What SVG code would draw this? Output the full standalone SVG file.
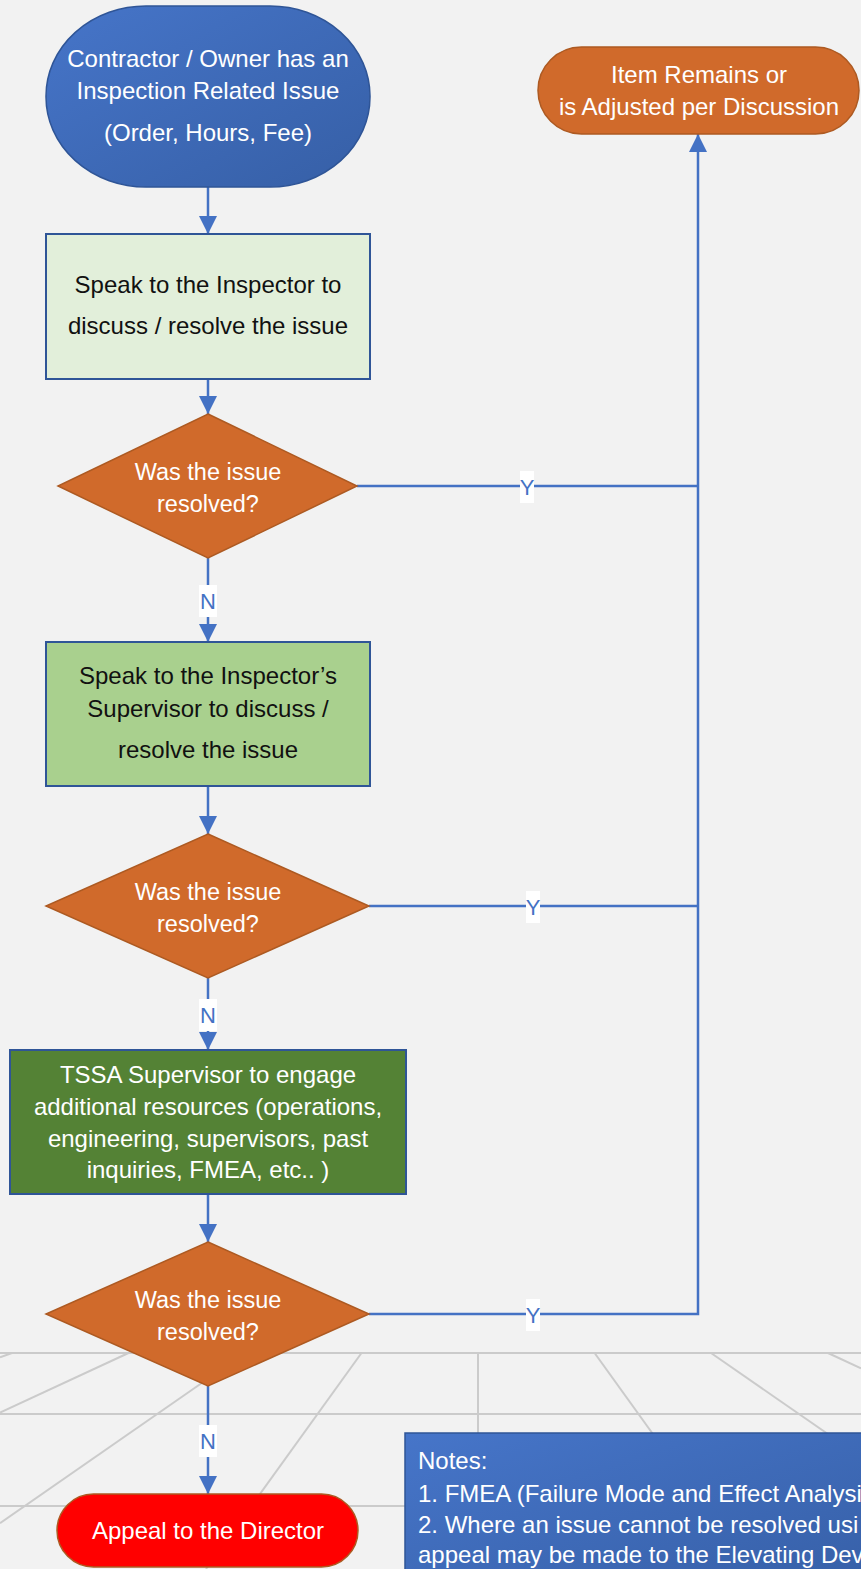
<svg xmlns="http://www.w3.org/2000/svg" width="861" height="1569" viewBox="0 0 861 1569">
<defs>
<linearGradient id="gBlue" x1="0" y1="0" x2="1" y2="1">
<stop offset="0" stop-color="#4675c9"/>
<stop offset="1" stop-color="#365fa6"/>
</linearGradient>
<marker id="arr" markerUnits="userSpaceOnUse" markerWidth="18" markerHeight="18" refX="18" refY="9" orient="auto">
<path d="M0,0 L18,9 L0,18 z" fill="#4472c4"/>
</marker>
<style>
.t{font-family:"Liberation Sans",Arial,sans-serif;font-size:24px;text-anchor:middle}
.s{text-anchor:start}
.w{fill:#ffffff}
.k{fill:#111111}
.d{font-size:23.5px}
.conn{fill:none;stroke:#4472c4;stroke-width:2.5}
.lbl{fill:#ffffff}
.lt{font-family:"Liberation Sans",Arial,sans-serif;font-size:22px;fill:#4472c4;text-anchor:middle}
.grid{stroke:#cbcbcb;stroke-width:2;fill:none}
.dia{fill:#d06a2b;stroke:#ad5a22;stroke-width:1.5}
.box{stroke:#2f5597;stroke-width:2}
</style>
</defs>
<rect x="0" y="0" width="861" height="1569" fill="#f2f2f2"/>
<g id="floor-grid">
<line class="grid" x1="0" y1="1353" x2="861" y2="1353"/>
<line class="grid" x1="0" y1="1414" x2="861" y2="1414"/>
<line class="grid" x1="0" y1="1506" x2="861" y2="1506"/>
<line class="grid" x1="12" y1="1353" x2="0" y2="1357.2"/>
<line class="grid" x1="128.5" y1="1353" x2="0" y2="1412.6"/>
<line class="grid" x1="245" y1="1353" x2="0" y2="1523.3"/>
<line class="grid" x1="361.5" y1="1353" x2="206" y2="1569"/>
<line class="grid" x1="478" y1="1353" x2="478" y2="1569"/>
<line class="grid" x1="594.6" y1="1353" x2="750" y2="1569"/>
<line class="grid" x1="711" y1="1353" x2="861" y2="1457"/>
<line class="grid" x1="828" y1="1353" x2="861" y2="1368.3"/>
</g>
<g id="connectors">
<line class="conn" x1="208" y1="187" x2="208" y2="234" marker-end="url(#arr)"/>
<line class="conn" x1="208" y1="379" x2="208" y2="414" marker-end="url(#arr)"/>
<line class="conn" x1="208" y1="558" x2="208" y2="642" marker-end="url(#arr)"/>
<line class="conn" x1="208" y1="786" x2="208" y2="834" marker-end="url(#arr)"/>
<line class="conn" x1="208" y1="978" x2="208" y2="1050" marker-end="url(#arr)"/>
<line class="conn" x1="208" y1="1194" x2="208" y2="1242" marker-end="url(#arr)"/>
<line class="conn" x1="208" y1="1386" x2="208" y2="1494" marker-end="url(#arr)"/>
<line class="conn" x1="357" y1="486" x2="698" y2="486"/>
<line class="conn" x1="369" y1="906" x2="698" y2="906"/>
<path class="conn" d="M369,1314 L698,1314 L698,134" marker-end="url(#arr)"/>
<rect class="lbl" x="199" y="585" width="18" height="32"/>
<text class="lt" x="208" y="609">N</text>
<rect class="lbl" x="199" y="999" width="18" height="32"/>
<text class="lt" x="208" y="1023">N</text>
<rect class="lbl" x="199" y="1425" width="18" height="32"/>
<text class="lt" x="208" y="1449">N</text>
<rect class="lbl" x="520" y="471" width="14" height="32"/>
<text class="lt" x="527" y="495">Y</text>
<rect class="lbl" x="526" y="891" width="14" height="32"/>
<text class="lt" x="533" y="915">Y</text>
<rect class="lbl" x="526" y="1299" width="14" height="32"/>
<text class="lt" x="533" y="1323">Y</text>
</g>
<g id="start">
<rect x="46" y="6" width="324" height="181" rx="100" ry="90" fill="url(#gBlue)" stroke="#2f5597" stroke-width="1.5"/>
<text class="t w" x="208" y="67">Contractor / Owner has an</text>
<text class="t w" x="208" y="99">Inspection Related Issue</text>
<text class="t w" x="208" y="141">(Order, Hours, Fee)</text>
</g>
<g id="end-remains">
<rect x="538" y="47" width="321" height="87" rx="43.5" ry="43.5" fill="#d06a2b" stroke="#ad5a22" stroke-width="1.5"/>
<text class="t w" x="699" y="83">Item Remains or</text>
<text class="t w" x="699" y="115">is Adjusted per Discussion</text>
</g>
<g id="step1">
<rect class="box" x="46" y="234" width="324" height="145" fill="#e2efda"/>
<text class="t k" x="208" y="293">Speak to the Inspector to</text>
<text class="t k" x="208" y="334">discuss / resolve the issue</text>
</g>
<g id="decision1">
<polygon class="dia" points="208,414 357,486 208,558 58,486"/>
<text class="t w d" x="208" y="480">Was the issue</text>
<text class="t w d" x="208" y="512">resolved?</text>
</g>
<g id="step2">
<rect class="box" x="46" y="642" width="324" height="144" fill="#a9d08e"/>
<text class="t k" x="208" y="684">Speak to the Inspector’s</text>
<text class="t k" x="208" y="717">Supervisor to discuss /</text>
<text class="t k" x="208" y="758">resolve the issue</text>
</g>
<g id="decision2">
<polygon class="dia" points="208,834 369,906 208,978 46,906"/>
<text class="t w d" x="208" y="900">Was the issue</text>
<text class="t w d" x="208" y="932">resolved?</text>
</g>
<g id="step3">
<rect class="box" x="10" y="1050" width="396" height="144" fill="#548235"/>
<text class="t w" x="208" y="1083">TSSA Supervisor to engage</text>
<text class="t w" x="208" y="1115">additional resources (operations,</text>
<text class="t w" x="208" y="1147">engineering, supervisors, past</text>
<text class="t w" x="208" y="1178">inquiries, FMEA, etc.. )</text>
</g>
<g id="decision3">
<polygon class="dia" points="208,1242 369,1314 208,1386 46,1314"/>
<text class="t w d" x="208" y="1308">Was the issue</text>
<text class="t w d" x="208" y="1340">resolved?</text>
</g>
<g id="appeal">
<rect x="57" y="1494" width="301" height="73" rx="36.5" ry="36.5" fill="#ff0000" stroke="#ad5a22" stroke-width="1.5"/>
<text class="t w" x="208" y="1539">Appeal to the Director</text>
</g>
<g id="notes">
<rect x="405" y="1433" width="480" height="160" fill="url(#gBlue)" stroke="#2f5597" stroke-width="1.5"/>
<text class="t w s" x="418" y="1469">Notes:</text>
<text class="t w s" x="418" y="1502">1. FMEA (Failure Mode and Effect Analysi</text>
<text class="t w s" x="418" y="1533">2. Where an issue cannot be resolved usi</text>
<text class="t w s" x="418" y="1563">appeal may be made to the Elevating Dev</text>
</g>
</svg>
